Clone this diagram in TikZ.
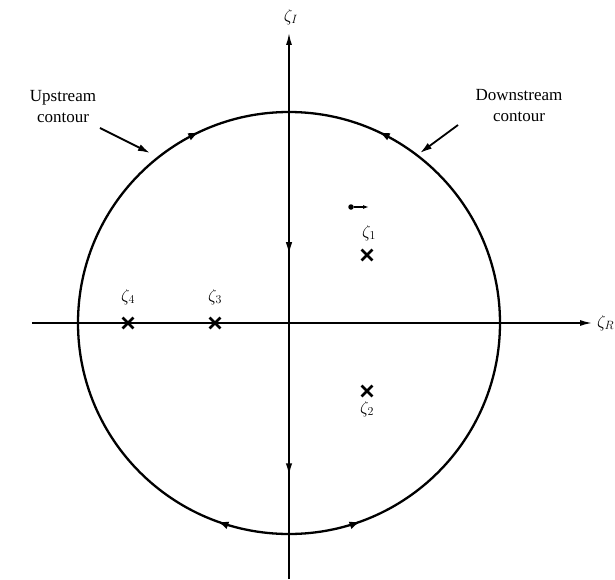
\documentclass[tikz,border=0pt]{standalone}
\usepackage{fontspec}
\setmainfont{Liberation Serif}
\usetikzlibrary{arrows.meta,decorations.markings,shapes.misc}

\begin{document}
\begin{tikzpicture}[x=1pt,y=1pt,
 axis/.style={line width=1.5pt,-{Latex[length=12pt,width=6pt]}},
 contour/.style={line width=2.3pt},
 pole/.style={cross out,draw,line width=2.8pt,minimum size=8pt,inner sep=0pt},
 callout/.style={line width=1.8pt,-{Latex[length=12pt,width=7pt]}},
 lbl/.style={font=\fontsize{17}{21}\selectfont,align=center},
 zlbl/.style={font=\fontsize{17}{19}\selectfont,inner sep=1pt}
]
\useasboundingbox (-289,-256) rectangle (326,323);

\coordinate (O) at (0,0);
\coordinate (xl) at (-257,0);
\coordinate (xr) at (303,0);
\coordinate (yb) at (0,-256);
\coordinate (yt) at (0,290);

% axes
\draw[axis] (xl) -- (xr);
\draw[axis,postaction={decorate},decoration={markings,
  mark=at position 0.595 with {\arrowreversed{Latex[length=12pt,width=6.5pt]}},
  mark=at position 0.19 with {\arrowreversed{Latex[length=12pt,width=6.5pt]}}}] (yb) -- (yt);
\node[zlbl,anchor=west] (zr) at ([xshift=4pt]xr) {$\zeta_R$};
\node[zlbl] (zi) at (2,306) {$\zeta_I$};

% upstream and downstream halves of the contour
\draw[contour,postaction={decorate},decoration={markings,
  mark=at position 0.11 with {\arrow{Latex[length=11pt,width=8pt]}},
  mark=at position 0.86 with {\arrow{Latex[length=11pt,width=8pt]}}}]
  (0,-211) arc[start angle=270,end angle=90,radius=211];
\draw[contour,postaction={decorate},decoration={markings,
  mark=at position 0.11 with {\arrow{Latex[length=11pt,width=8pt]}},
  mark=at position 0.86 with {\arrow{Latex[length=11pt,width=8pt]}}}]
  (0,-211) arc[start angle=-90,end angle=90,radius=211];

% poles
\node[pole] (p1) at (78,68) {};
\node[pole] (p2) at (78,-68) {};
\node[pole] (p3) at (-74,0) {};
\node[pole] (p4) at (-161,0) {};
\node[zlbl] (z1) at (80,90) {$\zeta_1$};
\node[zlbl] (z2) at (78,-86) {$\zeta_2$};
\node[zlbl] (z3) at (-74,26) {$\zeta_3$};
\node[zlbl] (z4) at (-161,26) {$\zeta_4$};

\node[circle,fill,inner sep=0pt,minimum size=5.5pt] (dot) at (62,116) {};
\coordinate (sb) at (80,116);
\draw[line width=1.3pt,-{Latex[length=6pt,width=4pt]}] (dot) -- (sb);

% callouts
\node[lbl] (up) at (-226,216) {Upstream\\contour};
\node[lbl] (down) at (230,217) {Downstream\\contour};
\coordinate (ua) at (-189,195);
\coordinate (ub) at (-139,170);
\coordinate (da) at (169,198);
\coordinate (db) at (131,170);
\draw[callout] (ua) -- (ub);
\draw[callout] (da) -- (db);
\end{tikzpicture}
\end{document}
